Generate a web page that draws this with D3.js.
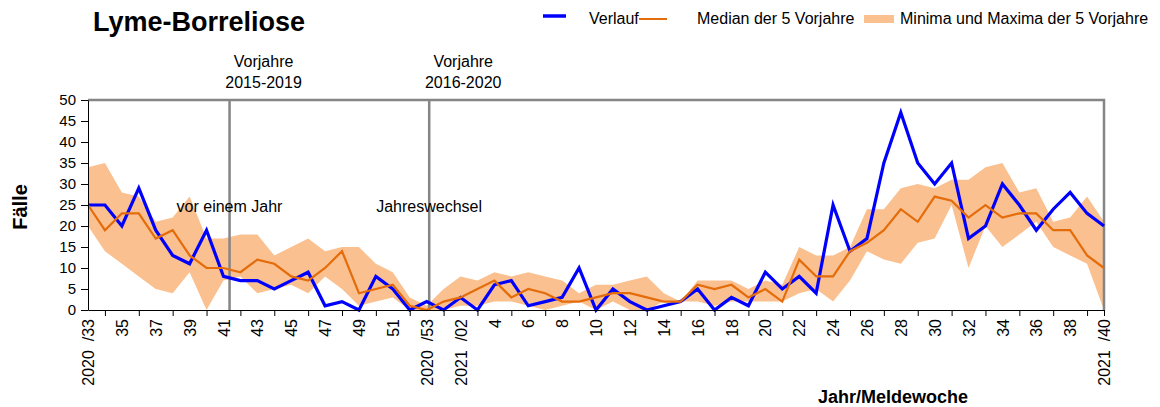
<!DOCTYPE html>
<html>
<head>
<meta charset="utf-8">
<title>Lyme-Borreliose</title>
<script src="https://d3js.org/d3.v7.min.js" charset="utf-8"></script>
<style>
  html, body { margin: 0; padding: 0; background: #fff; }
  svg text { font-family: "Liberation Sans", Arial, sans-serif; fill: #000; }
  .axis path, .axis line { stroke: #000; }
  .axis text { font-size: 16px; font-family: "Liberation Sans", Arial, sans-serif; }
</style>
</head>
<body>
<script>
// Meldewochen 2020/33 bis 2021/40 (2020 hat 53 Wochen)
var weeks = [33,34,35,36,37,38,39,40,41,42,43,44,45,46,47,48,49,50,51,52,53,
             1,2,3,4,5,6,7,8,9,10,11,12,13,14,15,16,17,18,19,20,
             21,22,23,24,25,26,27,28,29,30,31,32,33,34,35,36,37,38,39,40];
// Jahreszahl nur an den Stellen, wo sie in der Beschriftung steht
var yearLabels = {0: "2020", 20: "2020", 22: "2021", 60: "2021"};

var verlauf = [25,25,20,29,19,13,11,19,8,7,7,5,7,9,1,2,0,8,5,0,2,
               0,3,0,6,7,1,2,3,10,0,5,2,0,1,2,5,0,3,1,9,
               5,8,4,25,14,17,35,47,35,30,35,17,20,30,25,19,24,28,23,20];
var median = [25,19,23,23,17,19,13,10,10,9,12,11,8,7,10,14,4,5,6,1,0,
              2,3,5,7,3,5,4,2,2,3,4,4,3,2,2,6,5,6,3,5,
              2,12,8,8,14,16,19,24,21,27,26,22,25,22,23,23,19,19,13,10];
var maxima = [34,35,28,27,21,22,27,17,17,18,18,13,15,17,14,15,15,11,9,3,1,
              5,8,7,9,8,9,8,7,4,6,6,7,8,4,2,7,7,7,5,7,
              6,15,13,13,15,24,24,29,30,29,31,31,34,35,28,29,21,22,27,21];
var minima = [20,14,11,8,5,4,9,0,7,8,4,5,6,4,8,5,1,2,3,0,0,
              0,1,1,2,2,1,0,1,2,0,2,0,0,2,2,2,1,2,2,2,
              2,4,5,2,7,14,12,11,16,17,25,10,20,15,18,21,15,13,11,0];

var yTicks = [0,5,10,15,20,25,30,35,40,45,50];

// Markierungen (Position in Wochen-Index)
var markers = [
  {pos: 8.36, top: ["Vorjahre", "2015-2019"], inner: "vor einem Jahr"},
  {pos: 20.15, top: ["Vorjahre", "2016-2020"], inner: "Jahreswechsel"}
];

var width = 1160, height = 407;
var plot = {left: 88, right: 1104, top: 100, bottom: 310};

var svg = d3.select("body").append("svg")
    .attr("width", width)
    .attr("height", height);

var x = d3.scaleLinear()
    .domain([0, weeks.length - 1])
    .range([plot.left, plot.right]);

var y = d3.scaleLinear()
    .domain([0, 50])
    .range([plot.bottom, plot.top]);

var idx = d3.range(weeks.length);

// Band Minima/Maxima
var area = d3.area()
    .x(function(i) { return x(i); })
    .y0(function(i) { return y(minima[i]); })
    .y1(function(i) { return y(maxima[i]); });

svg.append("path")
    .datum(idx)
    .attr("d", area)
    .attr("fill", "#fac090");

// Rahmen oben / rechts
svg.append("path")
    .attr("d", "M" + plot.left + "," + plot.top + "H" + plot.right + "V" + plot.bottom)
    .attr("fill", "none")
    .attr("stroke", "#858585")
    .attr("stroke-width", 2.5);

// vertikale Markierungslinien
markers.forEach(function(m) {
  var mx = x(m.pos);
  svg.append("line")
      .attr("x1", mx).attr("x2", mx)
      .attr("y1", plot.top).attr("y2", plot.bottom)
      .attr("stroke", "#858585")
      .attr("stroke-width", 2.5);
  var t = svg.append("text")
      .attr("text-anchor", "middle")
      .style("font-size", "16px");
  t.append("tspan").attr("x", mx + 34).attr("y", 67).text(m.top[0]);
  t.append("tspan").attr("x", mx + 34).attr("y", 88).text(m.top[1]);
  svg.append("text")
      .attr("x", mx - 53)
      .attr("y", 212)
      .style("font-size", "16px")
      .text(m.inner);
});

var line = function(values) {
  return d3.line()
      .x(function(i) { return x(i); })
      .y(function(i) { return y(values[i]); })(idx);
};

svg.append("path")
    .attr("d", line(verlauf))
    .attr("fill", "none")
    .attr("stroke", "#0000ff")
    .attr("stroke-width", 3.2)
    .attr("stroke-linejoin", "miter");

svg.append("path")
    .attr("d", line(median))
    .attr("fill", "none")
    .attr("stroke", "#e46c0a")
    .attr("stroke-width", 2.2);

// y-Achse
var yAxis = svg.append("g")
    .attr("class", "axis")
    .attr("transform", "translate(" + plot.left + ",0)")
    .call(d3.axisLeft(y).tickValues(yTicks).tickSize(7).tickPadding(5).tickSizeOuter(0));
yAxis.selectAll("text").style("font-size", "15px");

// x-Achse: Striche zwischen den Beschriftungen
var tickIdx = idx.filter(function(i) { return i % 2 === 1; }).concat([weeks.length - 1]);
svg.append("g")
    .attr("class", "axis")
    .attr("transform", "translate(0," + plot.bottom + ")")
    .call(d3.axisBottom(x).tickValues(tickIdx).tickSize(6).tickSizeOuter(0).tickFormat(""));

var labelIdx = idx.filter(function(i) { return i % 2 === 0; });
var xLabels = svg.append("g")
    .attr("class", "axis")
    .attr("transform", "translate(0," + plot.bottom + ")")
    .call(d3.axisBottom(x).tickValues(labelIdx).tickSize(0).tickSizeOuter(0)
      .tickFormat(function(i) {
        var w = weeks[i];
        if (yearLabels[i]) return yearLabels[i] + "\u00a0 /" + (w < 10 ? "0" + w : w);
        return w;
      }));
xLabels.select(".domain").remove();
xLabels.selectAll("text")
    .attr("transform", "rotate(-90)")
    .attr("x", -9)
    .attr("y", 0)
    .attr("dy", "0.35em")
    .style("text-anchor", "end");

// Titel und Achsentitel
svg.append("text")
    .attr("x", 93).attr("y", 31)
    .style("font-size", "27px")
    .style("font-weight", "bold")
    .text("Lyme-Borreliose");

svg.append("text")
    .attr("transform", "translate(27,207) rotate(-90)")
    .attr("text-anchor", "middle")
    .style("font-size", "20px")
    .style("font-weight", "bold")
    .text("Fälle");

svg.append("text")
    .attr("x", 893).attr("y", 403)
    .attr("text-anchor", "middle")
    .style("font-size", "18px")
    .style("font-weight", "bold")
    .text("Jahr/Meldewoche");

// Legende
var legend = svg.append("g").style("font-size", "16px");
legend.append("line")
    .attr("x1", 543).attr("x2", 566).attr("y1", 16).attr("y2", 16)
    .attr("stroke", "#0000ff").attr("stroke-width", 3.5);
legend.append("text").attr("x", 589).attr("y", 24).text("Verlauf");
legend.append("line")
    .attr("x1", 639).attr("x2", 667).attr("y1", 19).attr("y2", 19)
    .attr("stroke", "#e46c0a").attr("stroke-width", 2);
legend.append("text").attr("x", 697).attr("y", 24).text("Median der 5 Vorjahre");
legend.append("rect")
    .attr("x", 864).attr("y", 15).attr("width", 30).attr("height", 8)
    .attr("fill", "#fac090");
legend.append("text").attr("x", 900).attr("y", 24).text("Minima und Maxima der 5 Vorjahre");
</script>
</body>
</html>
